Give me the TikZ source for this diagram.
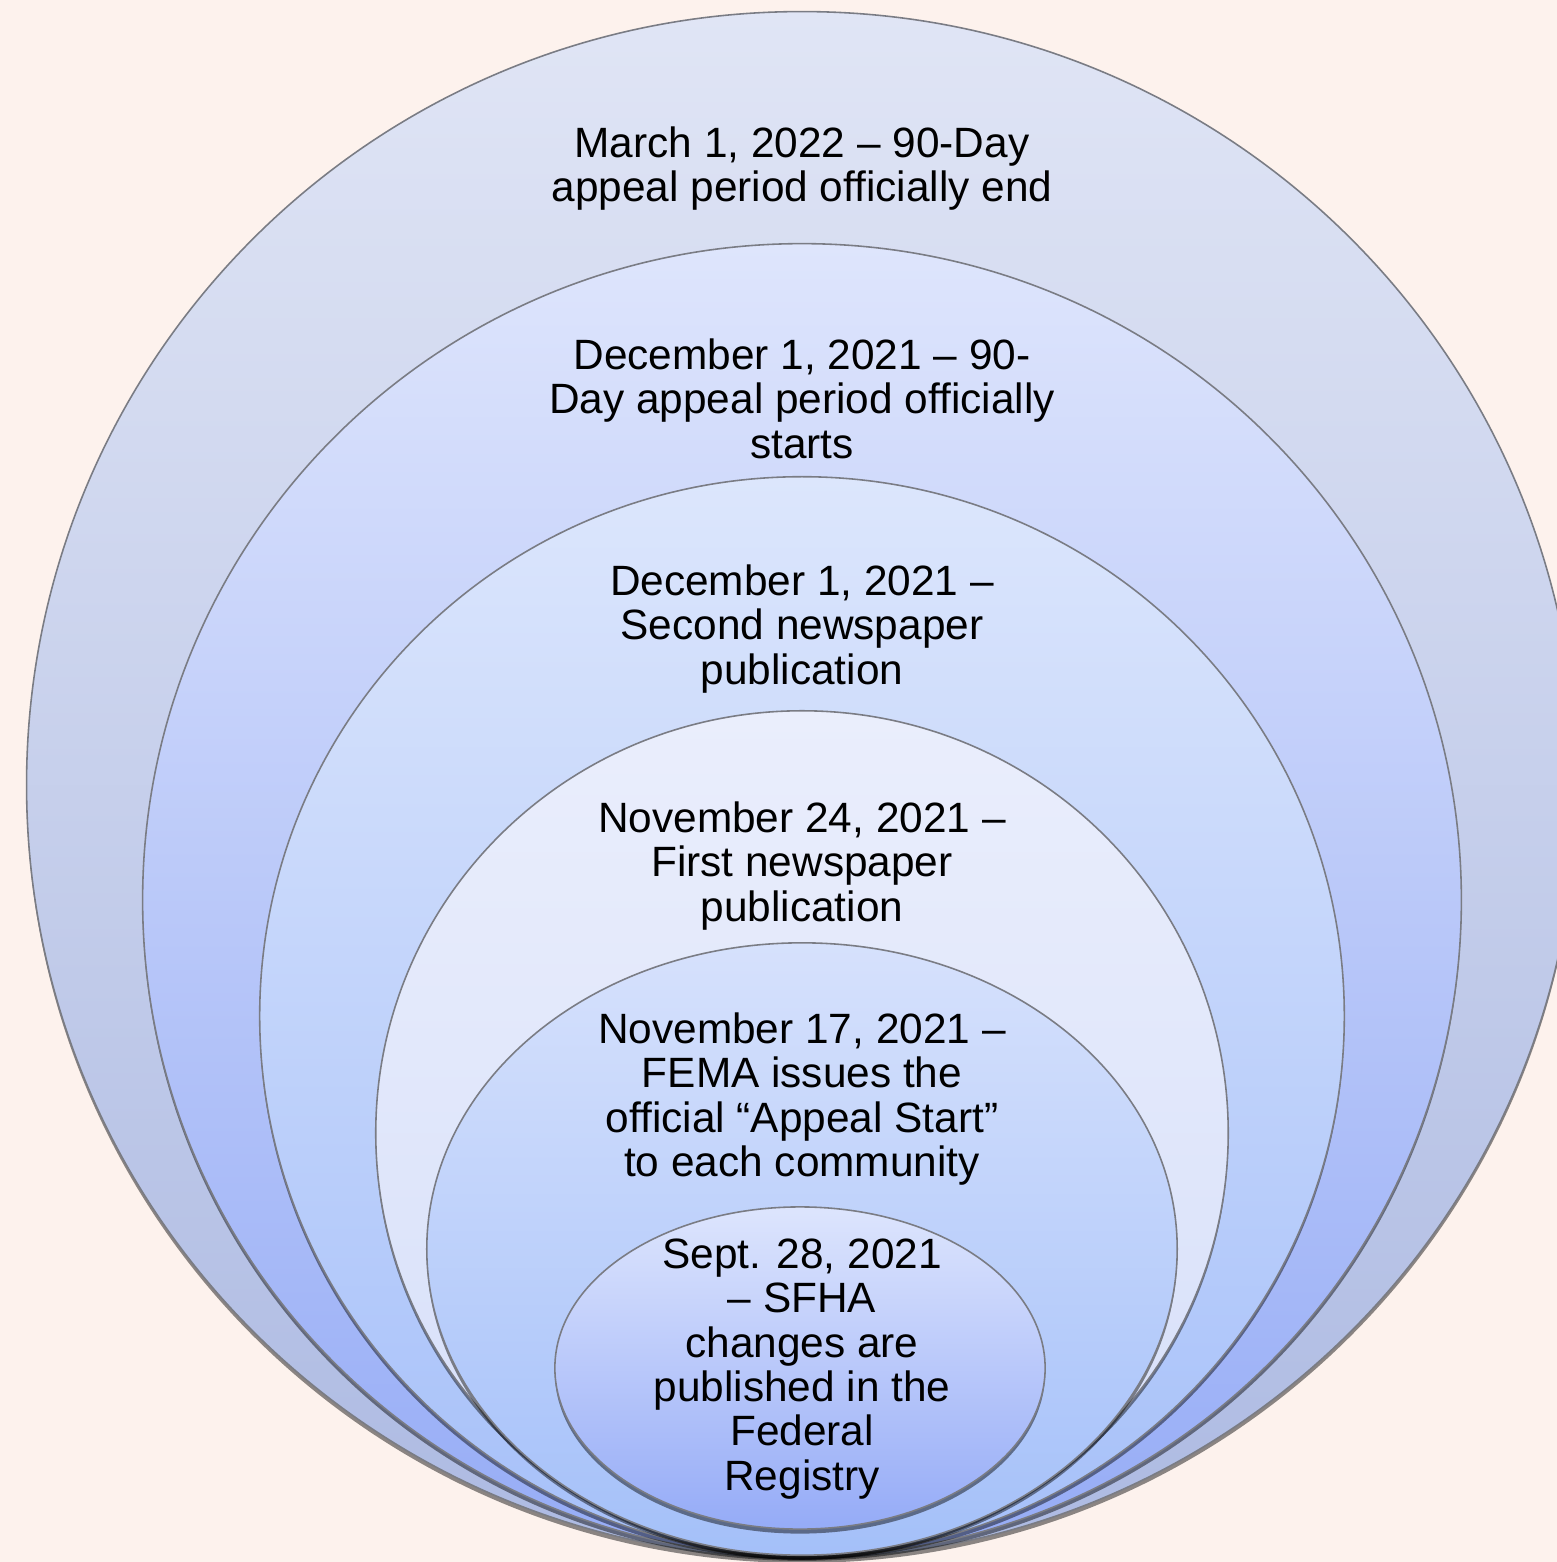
\documentclass[tikz,border=0pt]{standalone}
\usepackage{fontspec}
\setmainfont{Liberation Sans}
\usetikzlibrary{shapes.geometric,shadows}

\definecolor{bgpink}{HTML}{FDF2ED}
\definecolor{ringline}{HTML}{7A7C84}
\definecolor{onetop}{HTML}{E0E5F5}
\definecolor{onebot}{HTML}{ADBAE2}
\definecolor{twotop}{HTML}{DEE5FC}
\definecolor{twobot}{HTML}{96ACF6}
\definecolor{threetop}{HTML}{DCE6FC}
\definecolor{threebot}{HTML}{A6C0F9}
\definecolor{fourtop}{HTML}{EAEEFC}
\definecolor{fourbot}{HTML}{D6DFF9}
\definecolor{fivetop}{HTML}{D6E1FC}
\definecolor{fivebot}{HTML}{A4C0F9}
\definecolor{sixtop}{HTML}{DDE5FD}
\definecolor{sixbot}{HTML}{95ABF7}

\begin{document}
\begin{tikzpicture}[x=0.01cm, y=-0.01cm,
    ring/.style={ellipse, draw=ringline, line width=0.45pt, inner sep=0pt, outer sep=0pt,
        drop shadow={shadow xshift=0pt, shadow yshift=-0.45mm, opacity=0.45, fill=black}},
    stage/.style={align=center, inner sep=0pt, text=black,
        font=\fontsize{12.05}{12.6}\selectfont}]
    \useasboundingbox (0,0) rectangle (1557,1562);
    \fill[bgpink] (0,0) rectangle (1557,1562);
    \clip (0,0) rectangle (1557,1562);

    % nested rings, all resting on the same bottom line
    \node[ring, minimum width=15.50cm, minimum height=15.46cm, top color=onetop, bottom color=onebot] (e1) at (802,785) {};
    \node[ring, minimum width=13.18cm, minimum height=13.12cm, top color=twotop, bottom color=twobot] (e2) at (802,900) {};
    \node[ring, minimum width=10.84cm, minimum height=10.78cm, top color=threetop, bottom color=threebot] (e3) at (802,1016) {};
    \node[ring, minimum width=8.52cm, minimum height=8.44cm, top color=fourtop, bottom color=fourbot] (e4) at (802,1133) {};
    \node[ring, minimum width=7.50cm, minimum height=6.12cm, top color=fivetop, bottom color=fivebot] (e5) at (802,1249) {};
    \node[ring, minimum width=4.90cm, minimum height=3.22cm, top color=sixtop, bottom color=sixbot] (e6) at (800,1368) {};

    % labels
    \node[stage] (t1) at ([yshift=-1.57cm]e1.north) {March 1, 2022 – 90-Day\\appeal period officially end};
    \node[stage] (t2) at ([yshift=-1.55cm]e2.north) {December 1, 2021 – 90-\\Day appeal period officially\\starts};
    \node[stage] (t3) at ([yshift=-1.52cm]e3.north) {December 1, 2021 –\\Second newspaper\\publication};
    \node[stage] (t4) at ([yshift=-1.55cm]e4.north) {November 24, 2021 –\\First newspaper\\publication};
    \node[stage] (t5) at ([yshift=-1.56cm]e5.north) {November 17, 2021 –\\FEMA issues the\\official “Appeal Start”\\to each community};
    \node[stage] (t6) at ([xshift=0.02cm, yshift=-0.01cm]e6.center) {Sept. 28, 2021\\– SFHA\\changes are\\published in the\\Federal\\Registry};
\end{tikzpicture}
\end{document}
